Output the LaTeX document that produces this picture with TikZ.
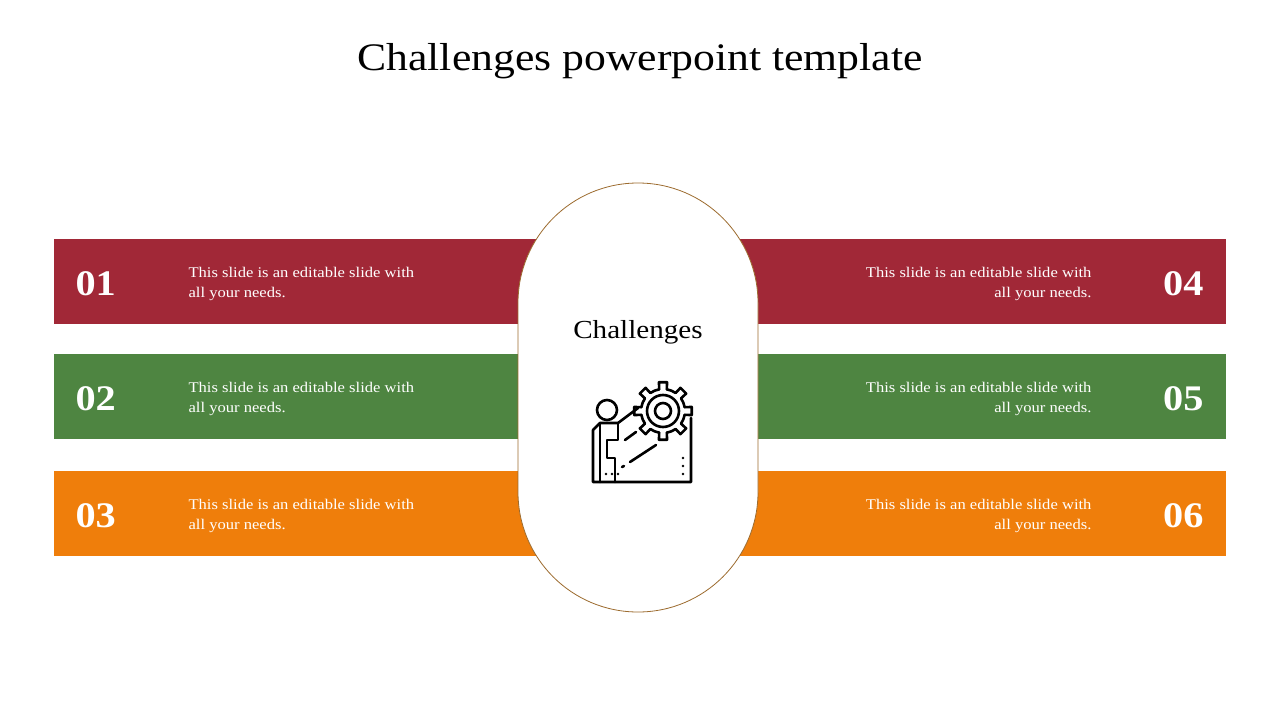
\documentclass[tikz,border=0pt]{standalone}
\usepackage{fontspec}
\setmainfont{Liberation Serif}[FakeStretch=1.12]
\usetikzlibrary{calc}
\begin{document}
\begin{tikzpicture}[x=1pt,y=-1pt,
  num/.style={text=white,font=\fontsize{36}{36}\selectfont\bfseries},
  txt/.style={text=white,font=\fontsize{14.8}{20.5}\selectfont,align=#1},
  ic/.style={line width=2.6pt,line join=round,line cap=round}]
\definecolor{cr}{HTML}{A12837}\definecolor{cg}{HTML}{4E8541}\definecolor{co}{HTML}{EF7E0B}\definecolor{cb}{HTML}{9C6B2E}
\useasboundingbox (0,0) rectangle (1280,720);
\node (title) at (640,61) {\fontsize{39}{39}\selectfont Challenges powerpoint template};
\foreach \c/\y/\a/\b in {cr/239/01/04, cg/354/02/05, co/471/03/06}{
  \fill[\c] (54,\y) rectangle (540,\y+85);
  \fill[\c] (740,\y) rectangle (1226,\y+85);
  \node[num,anchor=west] at (72,\y+45) {\a};
  \node[num,anchor=east] at (1207,\y+45) {\b};
  \node[txt=left,anchor=west] at (185,\y+45) {This slide is an editable slide with\\all your needs.};
  \node[txt=right,anchor=east] at (1095,\y+45) {This slide is an editable slide with\\all your needs.};
}
\draw[cb,fill=white,line width=0.8pt,rounded corners=120] (518,183) rectangle (758,612);
\node (ch) at (638,332) {\fontsize{26}{26}\selectfont Challenges};
\begin{scope}[ic]
\draw (607,410) circle (10);
\draw (663,411) circle (16);
\draw (663,411) circle (8);
\foreach \i in {0,45,...,315}{
  \draw ($(663,411)+(\i-10:22)$) -- ($(663,411)+(\i-8:29)$) -- ($(663,411)+(\i+8:29)$) -- ($(663,411)+(\i+10:22)$);
}
\foreach \i in {0,45,...,315}{
  \draw ($(663,411)+(\i+10:22)$) arc (\i+10:\i+35:22);
}
\draw (691,418) -- (691,482) -- (593,482) -- (593,430) -- (600,423) -- (618,423) -- (638,408);
\draw (618,423) -- (618,440) -- (607,440) -- (607,458) -- (615,458) -- (615,482);
\draw (600,423) -- (600,482);
\draw (636,432) -- (625,440);
\draw (656,445) -- (630,462);
\draw (624,466) -- (622,467);
\draw (606,474) -- (606,474) (612,474) -- (612,474) (618,474) -- (618,474);
\draw (683,458) -- (683,458) (683,466) -- (683,466) (683,474) -- (683,474);
\end{scope}
\end{tikzpicture}
\end{document}
